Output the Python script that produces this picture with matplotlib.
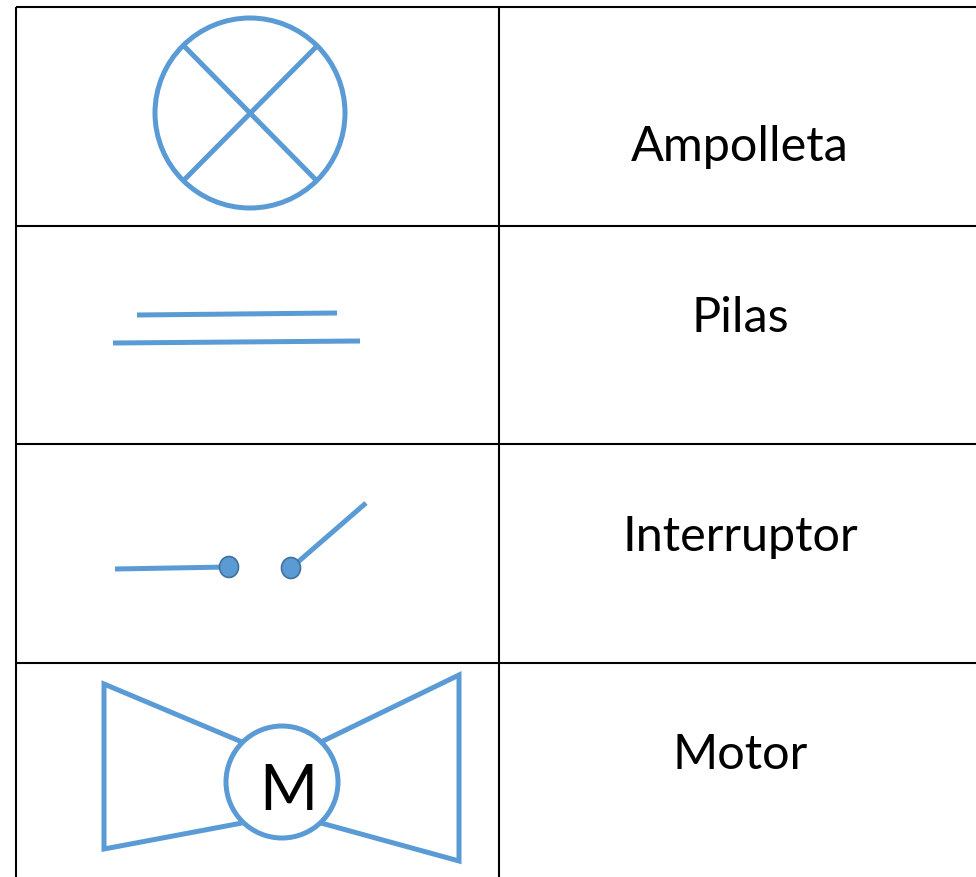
import matplotlib
matplotlib.use("Agg")
import matplotlib.pyplot as plt
from matplotlib.patches import Circle, Ellipse

W, H = 976, 877
BLUE = "#5B9BD5"
DARK = "#41719C"

labels = ["Ampolleta", "Pilas", "Interruptor", "Motor"]
label_baseline = [161, 332, 551, 769]
grid_y = [7, 226, 444, 663]
grid_x = [16, 499]
lamp_circle = (250, 113, 95)
lamp_lines = [((184, 46), (317, 181)), ((317, 46), (184, 180))]
cell_lines = [((137, 315), (337, 313)), ((113, 343), (360, 341))]
switch_lines = [((115, 569), (229, 567)), ((291, 568), (366, 503))]
switch_dots = [(229, 567), (291, 568)]
motor_paths = [
    [(242, 742), (104, 684), (104, 849), (242, 823)],
    [(321, 742), (459, 675), (459, 861), (321, 823)],
]
motor_circle = (282, 782, 56)

fig = plt.figure(figsize=(W / 100, H / 100), dpi=100)
ax = fig.add_axes([0, 0, 1, 1])
ax.set_xlim(0, W)
ax.set_ylim(H, 0)
ax.axis("off")

for y in grid_y:
    ax.plot([grid_x[0], W], [y, y], color="black", lw=1.5, solid_capstyle="butt")
for x in grid_x:
    ax.plot([x, x], [grid_y[0], H], color="black", lw=1.5, solid_capstyle="butt")

cx, cy, r = lamp_circle
ax.add_patch(Circle((cx, cy), r, fill=False, ec=BLUE, lw=3.6))
for seg in lamp_lines + cell_lines + switch_lines:
    ax.plot(*zip(*seg), color=BLUE, lw=3.6, solid_capstyle="butt")
for x, y in switch_dots:
    ax.add_patch(Ellipse((x, y), 19, 21, fc=BLUE, ec=DARK, lw=1.2, zorder=3))
for path in motor_paths:
    ax.plot(*zip(*path), color=BLUE, lw=3.6, solid_joinstyle="miter", solid_capstyle="butt")
mx, my, mr = motor_circle
ax.add_patch(Circle((mx, my), mr, fc="white", ec=BLUE, lw=3.6, zorder=3))
ax.text(mx + 6, 810, "M", fontsize=45, family="Lato", ha="center", va="baseline", zorder=4)

for label, y in zip(labels, label_baseline):
    ax.text(740, y, label, fontsize=35, family="Lato", ha="center", va="baseline")

fig.savefig("out.png", dpi=100)
